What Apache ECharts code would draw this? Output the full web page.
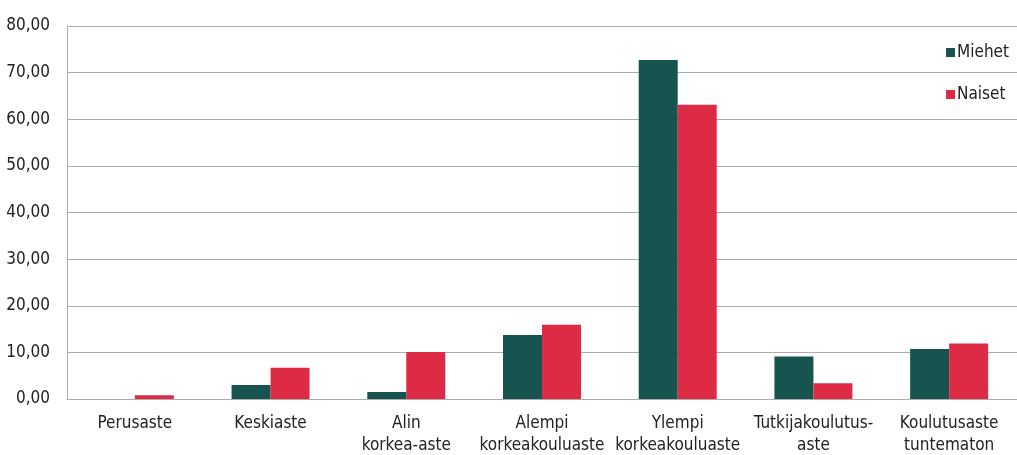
<!DOCTYPE html>
<html>
<head>
<meta charset="utf-8">
<script src="https://cdn.jsdelivr.net/npm/echarts@6/dist/echarts.min.js"></script>
<style>
  html, body { margin: 0; padding: 0; background: #fff; }
  #chart { width: 1017px; height: 455px; }
</style>
</head>
<body>
<div id="chart"></div>
<script>
// Koulutusasteet (x-akselin luokat)
const categories = [
  'Perusaste',
  'Keskiaste',
  'Alin\nkorkea-aste',
  'Alempi\nkorkeakouluaste',
  'Ylempi\nkorkeakouluaste',
  'Tutkijakoulutus-\naste',
  'Koulutusaste\ntuntematon'
];
// Osuudet prosentteina
const miehet = [0, 3.0, 1.5, 13.7, 72.7, 9.1, 10.7];
const naiset = [0.8, 6.7, 10.1, 15.9, 63.1, 3.4, 11.9];
const seriesNames = ['Miehet', 'Naiset'];

const FONT = "'Liberation Sans Narrow', 'DejaVu Sans Condensed', 'Roboto Condensed', sans-serif";
const TEXT = '#222222';
const GRIDLINE = '#ababab';

const chart = echarts.init(document.getElementById('chart'), null, { renderer: 'canvas' });
chart.setOption({
  animation: false,
  backgroundColor: '#ffffff',
  textStyle: { fontFamily: FONT },
  grid: { left: 67, right: 0, top: 26, bottom: 56, containLabel: false, outerBoundsMode: 'none' },
  legend: {
    orient: 'vertical',
    right: 3,
    top: 39,
    itemWidth: 9,
    itemHeight: 9,
    itemGap: 25,
    icon: 'rect',
    textStyle: { fontFamily: FONT, fontSize: 17, color: TEXT, padding: [0, 0, 0, -3] },
    data: seriesNames
  },
  xAxis: {
    type: 'category',
    data: categories,
    axisTick: { show: false },
    axisLine: { lineStyle: { color: GRIDLINE, width: 1 } },
    axisLabel: {
      interval: 0,
      margin: 14,
      fontFamily: FONT,
      fontSize: 17,
      lineHeight: 22,
      color: TEXT
    }
  },
  yAxis: {
    type: 'value',
    min: 0,
    max: 80,
    interval: 10,
    axisLine: { show: true, lineStyle: { color: GRIDLINE, width: 1 } },
    axisTick: { show: false },
    splitLine: { lineStyle: { color: GRIDLINE, width: 1 } },
    axisLabel: {
      margin: 17,
      fontFamily: FONT,
      fontSize: 17,
      color: TEXT,
      formatter: v => v.toFixed(2).replace('.', ',')
    }
  },
  series: [
    {
      name: seriesNames[0],
      type: 'bar',
      data: miehet,
      barWidth: 39,
      barGap: '0%',
      itemStyle: { color: '#175450' }
    },
    {
      name: seriesNames[1],
      type: 'bar',
      data: naiset,
      barWidth: 39,
      barGap: '0%',
      itemStyle: { color: '#dd2b45' }
    }
  ]
});
</script>
</body>
</html>
